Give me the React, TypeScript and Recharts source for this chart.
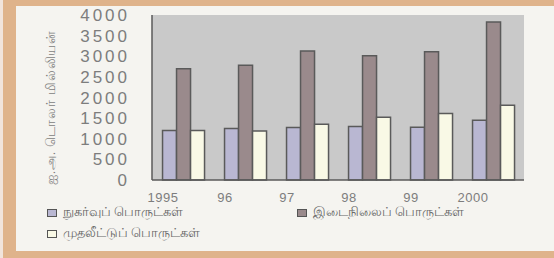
import React from "react";
import { BarChart, Bar, XAxis, YAxis, CartesianGrid } from "recharts";

const years = ["1995", "96", "97", "98", "99", "2000"];
const consumerGoods = [1200, 1250, 1270, 1300, 1280, 1450];
const intermediateGoods = [2700, 2780, 3130, 3010, 3110, 3830];
const capitalGoods = [1200, 1190, 1350, 1520, 1610, 1810];
const yTicks = [0, 500, 1000, 1500, 2000, 2500, 3000, 3500, 4000];

const series = [
  { key: "consumer", name: "நுகர்வுப் பொருட்கள்", color: "#b9b7d2" },
  { key: "intermediate", name: "இடைநிலைப் பொருட்கள்", color: "#9a8a8c" },
  { key: "capital", name: "முதலீட்டுப் பொருட்கள்", color: "#f9f9e6" },
];
const yLabel = "ஐ.அ. டொலர் மில்லியன்";

const data = years.map((y, i) => ({
  year: y,
  consumer: consumerGoods[i],
  intermediate: intermediateGoods[i],
  capital: capitalGoods[i],
}));

const FONT = "'Liberation Sans', Arial, 'Noto Sans', sans-serif";
const TEXT = "#7d7d7d";
const EDGE = "#5a5a5a";

// legend slots: two items on the first row, one on the second
const legendPos = [
  { left: 47, top: 205 },
  { left: 297, top: 205 },
  { left: 47, top: 226 },
];

export default function App() {
  return (
    <div style={{ position: "absolute", left: 0, top: 0, width: 554, height: 258, background: "#dfb38b", overflow: "hidden" }}>
      <div style={{ position: "absolute", left: 0, top: 0, width: 3, height: 258, background: "#f1e4dc" }} />
      <div style={{ position: "absolute", left: 16, top: 6, width: 538, height: 245, background: "#f5f4f0" }} />
      <div style={{ position: "absolute", left: 0, top: 0 }}>
        <BarChart
          width={554}
          height={258}
          data={data}
          margin={{ top: 15, right: 30, bottom: 58, left: 0 }}
          barCategoryGap="17%"
          barGap={0}
        >
          <CartesianGrid horizontal={false} vertical={false} fill="#c9c9c9" fillOpacity={1} />
          <XAxis
            dataKey="year"
            axisLine={{ stroke: EDGE, strokeWidth: 1.5 }}
            tickLine={false}
            tickMargin={7}
            tick={{ fill: TEXT, fontSize: 13, fontFamily: FONT, letterSpacing: 0.5, dx: -20 }}
            interval={0}
            height={20}
          />
          <XAxis xAxisId="top" dataKey="year" orientation="top" axisLine={{ stroke: EDGE, strokeWidth: 1.5 }} tick={false} tickLine={false} height={0} />
          <YAxis
            domain={[0, 4000]}
            ticks={yTicks}
            interval={0}
            width={152}
            axisLine={{ stroke: EDGE, strokeWidth: 1.5 }}
            tickLine={false}
            tickMargin={16}
            tick={{ fill: TEXT, fontSize: 17, fontFamily: FONT, letterSpacing: 3 }}
            label={(p: any) => {
              const vb = p.viewBox;
              const cx = vb.x + 52;
              const cy = vb.y + vb.height / 2 + 10;
              return (
                <text x={cx} y={cy} transform={`rotate(-90 ${cx} ${cy})`} textAnchor="middle" dominantBaseline="middle" fill={TEXT} fontSize={12.5} letterSpacing={0.8} fontFamily={FONT}>
                  {yLabel}
                </text>
              );
            }}
          />
          <YAxis yAxisId="right" orientation="right" domain={[0, 4000]} axisLine={{ stroke: EDGE, strokeWidth: 1.5 }} tick={false} tickLine={false} width={0} />
          {series.map((s) => (
            <Bar key={s.key} dataKey={s.key} name={s.name} fill={s.color} stroke={EDGE} strokeWidth={1.5} isAnimationActive={false} />
          ))}
        </BarChart>
      </div>
      {series.map((s, i) => (
        <div key={s.key} style={{ position: "absolute", left: legendPos[i].left, top: legendPos[i].top, display: "flex", alignItems: "center", fontFamily: FONT, fontSize: 12.5, color: "#666", whiteSpace: "nowrap" }}>
          <span style={{ display: "inline-block", width: 8, height: 6, background: s.color, border: "1.5px solid #555", marginRight: 6 }} />
          {s.name}
        </div>
      ))}
    </div>
  );
}
